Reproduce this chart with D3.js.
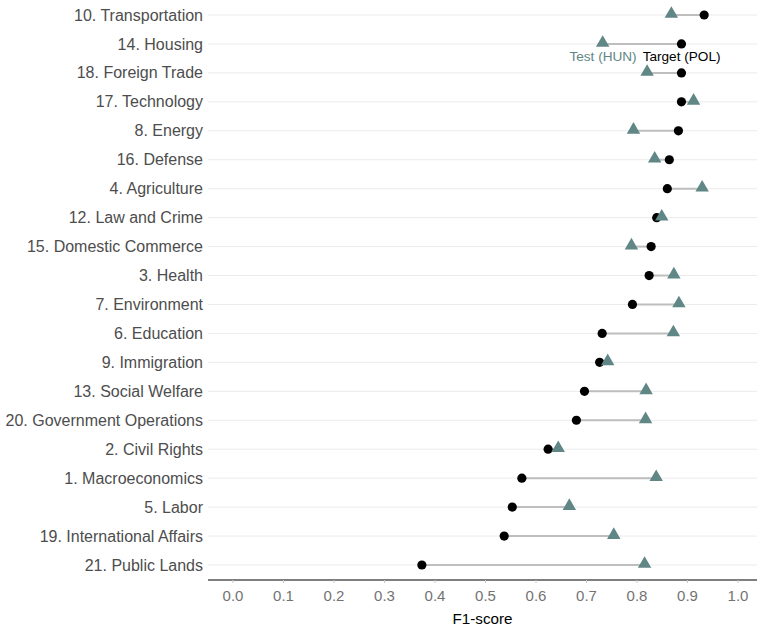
<!DOCTYPE html>
<html>
<head>
<meta charset="utf-8">
<script src="https://cdn.jsdelivr.net/npm/d3@7"></script>
<style>
  body { margin: 0; background: #fff; font-family: "Liberation Sans", Arial, sans-serif; }
</style>
</head>
<body>
<div id="chart"></div>
<script>
// Categories, top to bottom
const categories = [
    '10. Transportation', '14. Housing', '18. Foreign Trade', '17. Technology',
    '8. Energy', '16. Defense', '4. Agriculture', '12. Law and Crime',
    '15. Domestic Commerce', '3. Health', '7. Environment', '6. Education',
    '9. Immigration', '13. Social Welfare', '20. Government Operations',
    '2. Civil Rights', '1. Macroeconomics', '5. Labor', '19. International Affairs',
    '21. Public Lands'
];

// F1-score for target language (POL)
const targetScores = [
    0.933, 0.888, 0.888, 0.888, 0.882, 0.864, 0.860, 0.839, 0.828, 0.824,
    0.791, 0.731, 0.726, 0.696, 0.680, 0.624, 0.572, 0.553, 0.537, 0.374
];

// F1-score for test language (HUN)
const testScores = [
    0.868, 0.732, 0.820, 0.912, 0.793, 0.835, 0.929, 0.849, 0.789, 0.873,
    0.883, 0.872, 0.742, 0.818, 0.817, 0.644, 0.838, 0.666, 0.754, 0.815
];

const xTicks = [0, 0.1, 0.2, 0.3, 0.4, 0.5, 0.6, 0.7, 0.8, 0.9, 1.0];

const testColor = '#608686';
const targetColor = '#000000';

const data = categories.map((c, i) => ({ cat: c, target: targetScores[i], test: testScores[i] }));

const W = 757, H = 627;
const panel = { left: 208, right: 757, top: 0, bottom: 580 };

const svg = d3.select('#chart')
    .append('svg')
    .attr('width', W)
    .attr('height', H);

const x = d3.scaleLinear()
    .domain([-0.0495, 1.0376])
    .range([panel.left, panel.right]);

const y = d3.scalePoint()
    .domain(categories)
    .range([15, 565]);

// Horizontal grid lines
svg.append('g')
    .selectAll('line')
    .data(categories)
    .enter()
    .append('line')
    .attr('x1', panel.left)
    .attr('x2', panel.right)
    .attr('y1', d => y(d))
    .attr('y2', d => y(d))
    .style('stroke', '#ebebeb')
    .style('stroke-width', 1);

// Category labels
svg.append('g')
    .selectAll('text')
    .data(categories)
    .enter()
    .append('text')
    .attr('x', 203)
    .attr('y', d => y(d))
    .attr('dy', '0.35em')
    .attr('text-anchor', 'end')
    .style('font-size', '16px')
    .style('fill', '#4d4d4d')
    .text(d => d);

// Segments between the two scores
svg.append('g')
    .selectAll('line')
    .data(data)
    .enter()
    .append('line')
    .attr('x1', d => x(d.target))
    .attr('x2', d => x(d.test))
    .attr('y1', d => y(d.cat))
    .attr('y2', d => y(d.cat))
    .style('stroke', '#bebebe')
    .style('stroke-width', 2);

// Target points (circles)
svg.append('g')
    .selectAll('circle')
    .data(data)
    .enter()
    .append('circle')
    .attr('cx', d => x(d.target))
    .attr('cy', d => y(d.cat))
    .attr('r', 4.6)
    .style('fill', targetColor);

// Test points (triangles)
const tri = d3.symbol().type(d3.symbolTriangle).size(78);
svg.append('g')
    .selectAll('path')
    .data(data)
    .enter()
    .append('path')
    .attr('d', tri)
    .attr('transform', d => `translate(${x(d.test)},${y(d.cat) - 1})`)
    .style('fill', testColor);

// X axis
const axis = svg.append('g')
    .attr('transform', `translate(0,${panel.bottom})`);

axis.append('line')
    .attr('x1', panel.left)
    .attr('x2', panel.right)
    .style('stroke', '#000')
    .style('stroke-width', 1.1);

axis.selectAll('.tick')
    .data(xTicks)
    .enter()
    .append('line')
    .attr('x1', d => x(d))
    .attr('x2', d => x(d))
    .attr('y1', 0)
    .attr('y2', 3)
    .style('stroke', '#c8c8c8');

axis.selectAll('.tick-label')
    .data(xTicks)
    .enter()
    .append('text')
    .attr('x', d => x(d))
    .attr('y', 10)
    .attr('dy', '0.71em')
    .attr('text-anchor', 'middle')
    .style('font-size', '15px')
    .style('fill', '#737373')
    .text(d => d3.format('.1f')(d));

svg.append('text')
    .attr('x', (panel.left + panel.right) / 2)
    .attr('y', 619)
    .attr('dy', '0.35em')
    .attr('text-anchor', 'middle')
    .style('font-size', '15.2px')
    .style('fill', '#000')
    .text('F1-score');

// Inline legend under the Housing row
const housing = data[1];
svg.append('text')
    .attr('x', x(housing.test) + 34)
    .attr('y', 56)
    .attr('dy', '0.35em')
    .attr('text-anchor', 'end')
    .style('font-size', '13.6px')
    .style('fill', testColor)
    .text('Test (HUN)');

svg.append('text')
    .attr('x', x(housing.test) + 40)
    .attr('y', 56)
    .attr('dy', '0.35em')
    .attr('text-anchor', 'start')
    .style('font-size', '13.6px')
    .style('fill', targetColor)
    .text('Target (POL)');
</script>
</body>
</html>
